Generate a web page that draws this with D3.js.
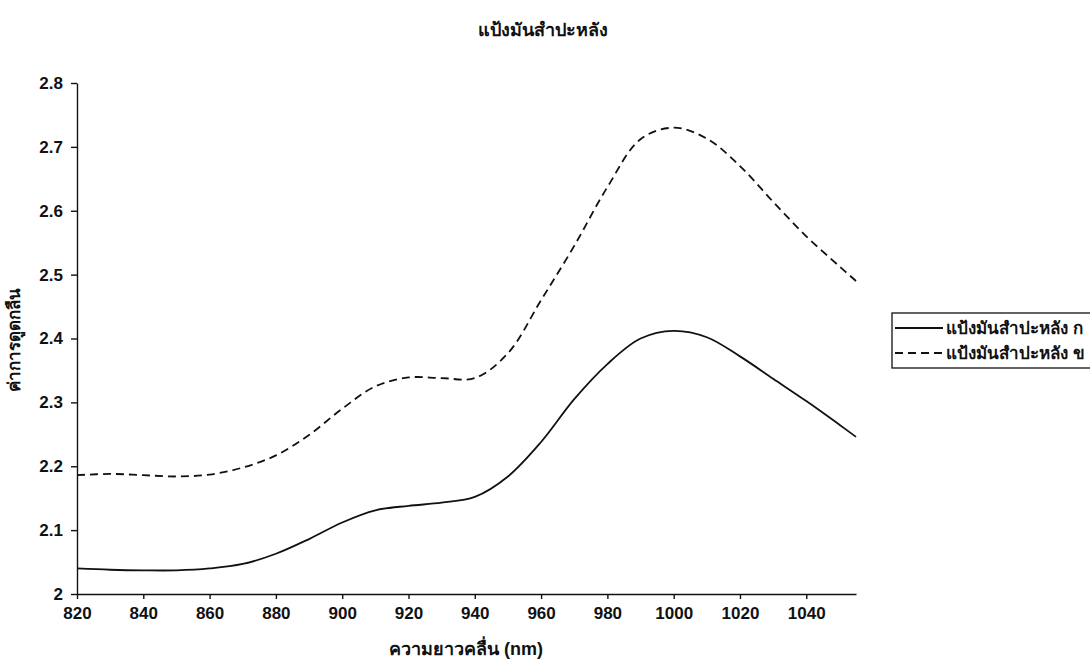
<!DOCTYPE html>
<html>
<head>
<meta charset="utf-8">
<script src="https://cdn.jsdelivr.net/npm/d3@7"></script>
<style>
  html, body { margin: 0; padding: 0; background: #fff; }
  svg { display: block; }
  text { font-family: "Liberation Sans", Arial, "Noto Sans", sans-serif; font-weight: bold; fill: #111; }
</style>
</head>
<body>
<svg id="chart" width="1090" height="662"></svg>
<script>
// Wavelength (nm) sampled along the spectrum
const wavelengths = [820, 830, 840, 850, 860, 870, 880, 890, 900, 910, 920, 930, 940,
  950, 960, 970, 980, 990, 1000, 1010, 1020, 1030, 1040, 1050, 1055];

// Absorbance of cassava starch sample ก
const sampleA = [2.040, 2.038, 2.037, 2.037, 2.040, 2.047, 2.063, 2.086, 2.112, 2.131, 2.138, 2.143, 2.152,
  2.184, 2.238, 2.305, 2.360, 2.400, 2.412, 2.402, 2.372, 2.337, 2.302, 2.265, 2.246];

// Absorbance of cassava starch sample ข
const sampleB = [2.186, 2.188, 2.186, 2.184, 2.187, 2.198, 2.217, 2.249, 2.290, 2.325, 2.339, 2.338, 2.338,
  2.377, 2.460, 2.545, 2.637, 2.712, 2.730, 2.713, 2.670, 2.614, 2.560, 2.513, 2.490];

const xTicks = [820, 840, 860, 880, 900, 920, 940, 960, 980, 1000, 1020, 1040];
const yTicks = [2, 2.1, 2.2, 2.3, 2.4, 2.5, 2.6, 2.7, 2.8];

const seriesNames = ["แป้งมันสำปะหลัง ก", "แป้งมันสำปะหลัง ข"];
const titleText = "แป้งมันสำปะหลัง";
const xTitle = "ความยาวคลื่น (nm)";
const yTitle = "ค่าการดูดกลืน";

const svg = d3.select("#chart");

const x = d3.scaleLinear().domain([820, 1055]).range([77, 856]);
const y = d3.scaleLinear().domain([2, 2.8]).range([594, 83]);

// Axes
const xAxis = d3.axisBottom(x).tickValues(xTicks).tickSize(5).tickPadding(8)
  .tickFormat(d3.format("d")).tickSizeOuter(0);
const yAxis = d3.axisLeft(y).tickValues(yTicks).tickSize(6).tickPadding(8)
  .tickFormat(d => d3.format("")(d)).tickSizeOuter(0);

const gx = svg.append("g").attr("transform", `translate(0,${y(2)})`).call(xAxis);
const gy = svg.append("g").attr("transform", `translate(${x(820)},0)`).call(yAxis);

[gx, gy].forEach(g => {
  g.select(".domain").attr("stroke", "#111").attr("stroke-width", 1.4);
  g.selectAll(".tick line").attr("stroke", "#111").attr("stroke-width", 1.4);
  g.selectAll(".tick text").attr("font-size", 17).attr("font-weight", "bold")
    .attr("font-family", "'Liberation Sans', Arial, sans-serif").attr("fill", "#111");
});

// Lines
const line = d3.line()
  .x((d, i) => x(wavelengths[i]))
  .y(d => y(d))
  .curve(d3.curveCatmullRom.alpha(0.5));

svg.append("path").datum(sampleA)
  .attr("d", line).attr("fill", "none")
  .attr("stroke", "#111").attr("stroke-width", 1.8);

svg.append("path").datum(sampleB)
  .attr("d", line).attr("fill", "none")
  .attr("stroke", "#111").attr("stroke-width", 1.8)
  .attr("stroke-dasharray", "8,5");

// Titles
svg.append("text").attr("x", 543).attr("y", 36)
  .attr("text-anchor", "middle").attr("font-size", 18).text(titleText);

svg.append("text").attr("x", 466).attr("y", 655)
  .attr("text-anchor", "middle").attr("font-size", 18).text(xTitle);

svg.append("text")
  .attr("transform", "translate(20,340) rotate(-90)")
  .attr("text-anchor", "middle").attr("font-size", 17).text(yTitle);

// Legend
const legend = svg.append("g");
legend.append("rect").attr("x", 892).attr("y", 313).attr("width", 210).attr("height", 55)
  .attr("fill", "#fff").attr("stroke", "#111").attr("stroke-width", 1.3);

const legendRows = [
  { name: seriesNames[0], dash: null, cy: 328 },
  { name: seriesNames[1], dash: "8,5", cy: 353 }
];
legendRows.forEach(r => {
  legend.append("line").attr("x1", 895).attr("x2", 943).attr("y1", r.cy).attr("y2", r.cy)
    .attr("stroke", "#111").attr("stroke-width", 1.8)
    .attr("stroke-dasharray", r.dash);
  legend.append("text").attr("x", 946).attr("y", r.cy + 6)
    .attr("font-size", 17).text(r.name);
});
</script>
</body>
</html>
